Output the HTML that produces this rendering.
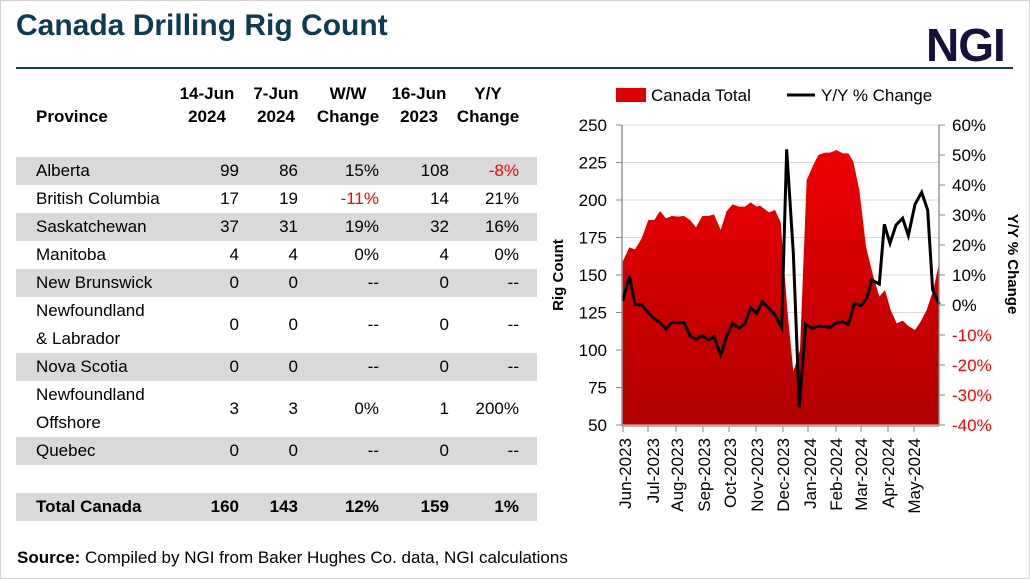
<!DOCTYPE html>
<html><head><meta charset="utf-8">
<style>
body{margin:0;width:1030px;height:579px;overflow:hidden;background:#fff;font-family:"Liberation Sans",Arial,sans-serif;}
.frame{position:absolute;left:0;top:0;width:1028px;height:577px;border:1px solid #d0d0d0;}
.title{position:absolute;left:16px;top:9px;font-size:30px;font-weight:bold;color:#0d3b52;}
.logo{position:absolute;left:926px;top:18px;font-size:46px;font-weight:bold;color:#14123d;letter-spacing:-1px;}
.rule{position:absolute;left:16px;top:67px;width:997px;height:2px;background:#0d3b52;}
.row{position:absolute;left:16px;width:521px;height:28px;font-size:17px;}
.g{background:#d9d9d9;}
.c{position:absolute;top:4px;text-align:right;}
.n{position:absolute;left:20px;top:4px;}
.red{color:#ff0000;}
.hd{position:absolute;font-size:17px;font-weight:bold;text-align:center;line-height:23px;}
.src{position:absolute;left:17px;top:548px;font-size:17px;}
</style></head><body>
<div class="frame"></div>
<div class="title">Canada Drilling Rig Count</div>
<div class="logo">NGI</div>
<div class="rule"></div>

<div class="hd" style="left:172px;top:82px;width:70px">14-Jun<br>2024</div>
<div class="hd" style="left:246px;top:82px;width:60px">7-Jun<br>2024</div>
<div class="hd" style="left:310px;top:82px;width:76px">W/W<br>Change</div>
<div class="hd" style="left:386px;top:82px;width:66px">16-Jun<br>2023</div>
<div class="hd" style="left:452px;top:82px;width:72px">Y/Y<br>Change</div>
<div class="hd" style="left:36px;top:105px;">Province</div>

<div id="rows"></div>
<script>
const rows=[
["Alberta","99","86","15%","108","-8%",157,1,0,1],
["British Columbia","17","19","-11%","14","21%",185,0,1,0],
["Saskatchewan","37","31","19%","32","16%",213,1,0,0],
["Manitoba","4","4","0%","4","0%",241,0,0,0],
["New Brunswick","0","0","--","0","--",269,1,0,0],
["Newfoundland<br>& Labrador","0","0","--","0","--",297,0,0,0],
["Nova Scotia","0","0","--","0","--",353,1,0,0],
["Newfoundland<br>Offshore","3","3","0%","1","200%",381,0,0,0],
["Quebec","0","0","--","0","--",437,1,0,0],
["<b>Total Canada</b>","160","143","12%","159","1%",493,1,0,0]];
let h="";
rows.forEach((r,i)=>{
 const tall=r[0].includes("<br>");
 const H=tall?56:28;const mid=tall?18:4;
 const b=i==9?"font-weight:bold;":"";
 h+=`<div class="row ${r[7]?'g':''}" style="top:${r[6]}px;height:${H}px;${b}">`+
 `<div class="n" style="line-height:28px;top:0">${r[0]}</div>`+
 `<div class="c" style="right:298px;top:${mid}px">${r[1]}</div>`+
 `<div class="c" style="right:239px;top:${mid}px">${r[2]}</div>`+
 `<div class="c ${r[8]?'red':''}" style="right:158px;top:${mid}px">${r[3]}</div>`+
 `<div class="c" style="right:88px;top:${mid}px">${r[4]}</div>`+
 `<div class="c ${r[9]?'red':''}" style="right:18px;top:${mid}px">${r[5]}</div></div>`;
});
document.getElementById("rows").innerHTML=h;
</script>

<div class="src"><b>Source:</b> Compiled by NGI from Baker Hughes Co. data, NGI calculations</div>

<svg style="position:absolute;left:0;top:0" width="1030" height="579">
<defs><linearGradient id="gr" x1="0" y1="0" x2="0" y2="1"><stop offset="0" stop-color="#f00000"/><stop offset="1" stop-color="#b00000"/></linearGradient></defs>
<g stroke="#d9d9d9" stroke-width="1">
<line x1="622" x2="939" y1="125" y2="125"/><line x1="622" x2="939" y1="162.5" y2="162.5"/><line x1="622" x2="939" y1="200" y2="200"/><line x1="622" x2="939" y1="237.5" y2="237.5"/><line x1="622" x2="939" y1="275" y2="275"/><line x1="622" x2="939" y1="312.5" y2="312.5"/><line x1="622" x2="939" y1="350" y2="350"/><line x1="622" x2="939" y1="387.5" y2="387.5"/>
</g>
<g transform="translate(560,110) scale(0.33333)">
<polygon fill="url(#gr)" points="188,944 188,455 208,412 225,418 245,385 265,330 283,330 300,303 318,325 335,318 355,320 372,318 390,330 408,352 427,318 445,318 462,313 482,360 500,303 518,283 537,290 555,290 572,277 590,290 600,287 627,307 645,300 662,337 682,600 700,785 720,720 740,210 760,165 775,135 795,128 810,128 830,120 848,130 865,130 880,155 898,240 918,410 940,500 958,560 975,540 992,600 1010,640 1028,632 1045,648 1065,660 1082,635 1100,600 1120,540 1138,455 1138,944"/>
<polyline fill="none" stroke="#000" stroke-width="9" stroke-linejoin="miter" points="188,573 208,498 225,583 245,585 265,608 282,625 300,637 318,657 335,637 355,638 372,637 390,678 408,688 427,677 445,690 462,680 482,735 500,678 518,640 537,655 555,640 572,593 590,610 607,575 627,595 645,615 665,653 680,118 700,430 718,892 737,643 757,655 775,648 795,650 810,652 830,638 848,635 865,643 883,580 903,587 920,565 935,510 958,522 973,343 990,400 1008,345 1028,325 1045,377 1065,283 1085,247 1103,300 1118,540 1138,583"/>
</g>
<g stroke="#888" stroke-width="1.3" fill="none">
<line x1="622" y1="125" x2="622" y2="426"/><line x1="939" y1="125" x2="939" y2="426"/>
<line x1="622" y1="426" x2="939" y2="426"/>
</g>
<g stroke="#888" stroke-width="1">
<path d="M616 125h6M616 162.5h6M616 200h6M616 237.5h6M616 275h6M616 312.5h6M616 350h6M616 387.5h6M616 425h6"/>
<path d="M939 125h6M939 155h6M939 185h6M939 215h6M939 245h6M939 275h6M939 305h6M939 335h6M939 365h6M939 395h6M939 425h6"/>
<path d="M623 426v6M648 426v6M676 426v6M703 426v6M729 426v6M756 426v6M783 426v6M808 426v6M836 426v6M861 426v6M888 426v6M914 426v6"/>
</g>
<g font-family="Liberation Sans,Arial,sans-serif" font-size="17" text-anchor="end">
<text x="607" y="131">250</text><text x="607" y="168.5">225</text><text x="607" y="206">200</text><text x="607" y="243.5">175</text><text x="607" y="281">150</text><text x="607" y="318.5">125</text><text x="607" y="356">100</text><text x="607" y="393.5">75</text><text x="607" y="431">50</text>
</g>
<g font-family="Liberation Sans,Arial,sans-serif" font-size="17">
<text x="952" y="131">60%</text><text x="952" y="161">50%</text><text x="952" y="191">40%</text><text x="952" y="221">30%</text><text x="952" y="251">20%</text><text x="952" y="281">10%</text><text x="952" y="311">0%</text>
<g fill="#ff0000"><text x="952" y="341">-10%</text><text x="952" y="371">-20%</text><text x="952" y="401">-30%</text><text x="952" y="431">-40%</text></g>
</g>
<g font-family="Liberation Sans,Arial,sans-serif" font-size="17" text-anchor="end">
<text transform="translate(631,438) rotate(-90)">Jun-2023</text>
<text transform="translate(659,438) rotate(-90)">Jul-2023</text>
<text transform="translate(683,438) rotate(-90)">Aug-2023</text>
<text transform="translate(710,438) rotate(-90)">Sep-2023</text>
<text transform="translate(736,438) rotate(-90)">Oct-2023</text>
<text transform="translate(763,438) rotate(-90)">Nov-2023</text>
<text transform="translate(789,438) rotate(-90)">Dec-2023</text>
<text transform="translate(816,438) rotate(-90)">Jan-2024</text>
<text transform="translate(842,438) rotate(-90)">Feb-2024</text>
<text transform="translate(867,438) rotate(-90)">Mar-2024</text>
<text transform="translate(894,438) rotate(-90)">Apr-2024</text>
<text transform="translate(920,438) rotate(-90)">May-2024</text>
</g>
<text transform="translate(563,275) rotate(-90)" text-anchor="middle" font-family="Liberation Sans,Arial,sans-serif" font-size="15" font-weight="bold">Rig Count</text>
<text transform="translate(1008,264) rotate(90)" text-anchor="middle" font-family="Liberation Sans,Arial,sans-serif" font-size="15" font-weight="bold">Y/Y % Change</text>
<rect x="616" y="88" width="30" height="14" fill="#e00000"/>
<text x="651" y="101" font-family="Liberation Sans,Arial,sans-serif" font-size="17">Canada Total</text>
<line x1="787" y1="95" x2="815" y2="95" stroke="#000" stroke-width="3"/>
<text x="821" y="101" font-family="Liberation Sans,Arial,sans-serif" font-size="17">Y/Y % Change</text>
</svg>
</body></html>
